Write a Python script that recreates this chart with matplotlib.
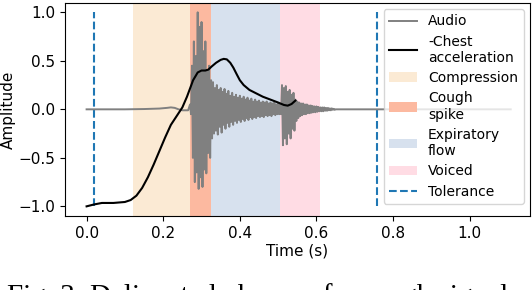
import numpy as np
import matplotlib
matplotlib.use('Agg')
import matplotlib.pyplot as plt

# -Chest acceleration (normalised)
chest_t = [0.0, 0.02, 0.04, 0.07, 0.10, 0.115, 0.13, 0.145, 0.16, 0.175, 0.19,
           0.205, 0.22, 0.235, 0.25, 0.262, 0.278, 0.29, 0.30, 0.31, 0.318,
           0.326, 0.338, 0.35, 0.358, 0.366, 0.375, 0.383, 0.392, 0.40, 0.41,
           0.425, 0.44, 0.46, 0.48, 0.50, 0.515, 0.525, 0.535, 0.545]
chest_v = [-1.0, -0.98, -0.965, -0.965, -0.955, -0.935, -0.89, -0.81, -0.70,
           -0.57, -0.43, -0.29, -0.16, -0.07, 0.02, 0.13, 0.30, 0.38, 0.40,
           0.40, 0.41, 0.44, 0.48, 0.51, 0.52, 0.515, 0.48, 0.43, 0.36, 0.30,
           0.25, 0.20, 0.17, 0.13, 0.10, 0.07, 0.045, 0.038, 0.055, 0.09]

# audio before the cough (nearly flat)
audio_pre_t = [0.0, 0.05, 0.10, 0.15, 0.19, 0.21, 0.22, 0.23, 0.24, 0.25, 0.265]
audio_pre_v = [0.0, 0.0, 0.0, 0.003, 0.008, 0.015, 0.02, 0.015, 0.0, -0.01, -0.01]

# audio burst: positive / negative peaks every 5 ms from 0.27 s
burst_start = 0.27
burst_step = 0.005
audio_upper = [0.05, 0.45, 0.70, 0.55, 1.00, 0.85, 0.90, 0.60, 0.70, 0.40,
               0.45, 0.30, 0.28, 0.22, 0.25, 0.20, 0.22, 0.18, 0.21, 0.16,
               0.19, 0.14, 0.17, 0.13, 0.15, 0.12, 0.14, 0.11, 0.13, 0.10,
               0.12, 0.09, 0.11, 0.08, 0.10, 0.08, 0.09, 0.07, 0.08, 0.07,
               0.08, 0.06, 0.07, 0.06, 0.07, 0.05, 0.06, 0.05, 0.25, 0.22,
               0.24, 0.18, 0.20, 0.15, 0.17, 0.10, 0.08, 0.07, 0.06, 0.06,
               0.05, 0.05, 0.04, 0.04, 0.035, 0.03, 0.03, 0.025, 0.02, 0.02,
               0.02, 0.015, 0.015, 0.01, 0.01, 0.005, 0.0]
audio_lower = [-0.05, -0.50, -0.75, -0.65, -0.82, -0.70, -0.80, -0.62, -0.66,
               -0.45, -0.50, -0.30, -0.25, -0.22, -0.26, -0.18, -0.24, -0.16,
               -0.20, -0.14, -0.18, -0.13, -0.16, -0.12, -0.14, -0.11, -0.13,
               -0.10, -0.12, -0.09, -0.11, -0.08, -0.10, -0.08, -0.09, -0.07,
               -0.08, -0.07, -0.08, -0.06, -0.07, -0.06, -0.07, -0.05, -0.06,
               -0.05, -0.05, -0.05, -0.37, -0.30, -0.36, -0.25, -0.30, -0.20,
               -0.22, -0.12, -0.09, -0.07, -0.06, -0.05, -0.05, -0.04, -0.04,
               -0.035, -0.03, -0.03, -0.025, -0.02, -0.02, -0.02, -0.015,
               -0.015, -0.01, -0.01, -0.005, -0.005, 0.0]

audio_post_t = [0.655, 1.107]
audio_post_v = [0.0, 0.0]

# phases (start, end) in seconds
phase_names = ['Compression', 'Cough\nspike', 'Expiratory\nflow', 'Voiced']
phase_bounds = [(0.12, 0.27), (0.271, 0.326), (0.326, 0.505), (0.505, 0.609)]
phase_colors = ['#fbead4', '#fcb9a0', '#d7e1ee', '#ffdce4']

tolerance_t = [0.02, 0.757]

# build audio trace
n = len(audio_upper)
t_up = burst_start + burst_step * np.arange(n)
burst_t = np.empty(2 * n)
burst_v = np.empty(2 * n)
burst_t[0::2] = t_up
burst_t[1::2] = t_up + burst_step / 2
burst_v[0::2] = audio_upper
burst_v[1::2] = audio_lower
audio_t = np.concatenate([audio_pre_t, burst_t, audio_post_t])
audio_v = np.concatenate([audio_pre_v, burst_v, audio_post_v])

fig = plt.figure(figsize=(5.32, 2.9), dpi=100)
ax = fig.add_axes([0.122, 0.255, 0.874, 0.736])

ax.plot(audio_t, audio_v, color='gray', lw=1.4, label='Audio', zorder=3)
ax.plot(chest_t, chest_v, color='black', lw=1.5, label='-Chest\nacceleration', zorder=4)
for name, (a, b), c in zip(phase_names, phase_bounds, phase_colors):
    ax.axvspan(a, b, color=c, lw=0, label=name, zorder=1)
ax.vlines(tolerance_t, -1.0, 1.0, colors='tab:blue', linestyles='--', lw=1.5,
          label='Tolerance', zorder=2)

ax.set_xlim(-0.0566, 1.157)
ax.set_ylim(-1.1, 1.1)
ax.set_xticks([0.0, 0.2, 0.4, 0.6, 0.8, 1.0])
ax.set_yticks([-1.0, -0.5, 0.0, 0.5, 1.0])
ax.tick_params(labelsize=11)
ax.set_xlabel('Time (s)', fontsize=11, labelpad=2)
ax.set_ylabel('Amplitude', fontsize=11, labelpad=2)
ax.legend(loc='upper right', fontsize=10, handlelength=2.0, borderaxespad=0.45,
          labelspacing=0.45)

fig.text(7 / 532, -0.048, 'Fig. 3: Delineated phases of a cough signal',
         family='Liberation Serif', fontsize=21, va='baseline', ha='left')

fig.savefig('out.png', dpi=100)
